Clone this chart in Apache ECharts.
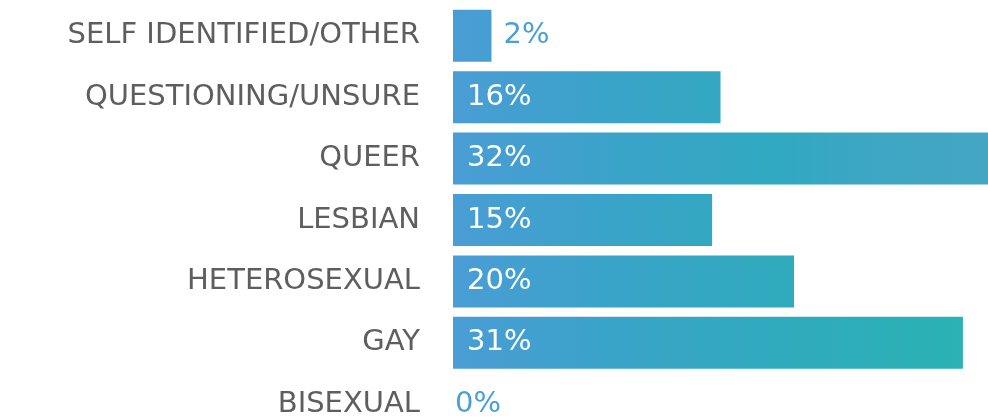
<!DOCTYPE html>
<html lang="en">
<head>
    <meta charset="UTF-8">
    <title>Identity</title>
    <script src="https://cdn.jsdelivr.net/npm/echarts@6/dist/echarts.min.js"></script>
    <style>
        html, body { margin: 0; padding: 0; background: #fff; }
        #box { width: 988px; height: 419px; }
    </style>
</head>
<body>
<div id="box"></div>
<script>
    // categories, top to bottom
    var categories = ['SELF IDENTIFIED/OTHER', 'QUESTIONING/UNSURE', 'QUEER', 'LESBIAN', 'HETEROSEXUAL', 'GAY', 'BISEXUAL'];
    // bar lengths (percent)
    var values = [2.3, 16, 32, 15.5, 20.4, 30.5, 0];
    // printed labels
    var labels = ['2%', '16%', '32%', '15%', '20%', '31%', '0%'];

    var myChart = echarts.init(document.getElementById('box'));

    function barColor(i) {
        var stops = [
            { offset: 0, color: '#4a9dd5' },
            { offset: 0.28, color: '#3aa3c9' },
            { offset: 0.55, color: '#31a9bf' },
            { offset: 0.95, color: '#2ab2b4' },
            { offset: 1, color: '#2ab3b4' }
        ];
        if (categories[i] == 'QUEER') {
            stops = [
                { offset: 0, color: '#4a9dd5' },
                { offset: 0.3, color: '#3ba3c9' },
                { offset: 0.6, color: '#30a9c0' },
                { offset: 0.75, color: '#3ca7c3' },
                { offset: 1, color: '#45a6c2' }
            ];
        }
        return { type: 'linear', x: 453, y: 0, x2: 988, y2: 0, global: true, colorStops: stops };
    }

    var items = [];
    for (var i = 0; i < values.length; i++) {
        var inside = values[i] > 5;
        items.push({
            value: values[i],
            itemStyle: { color: barColor(i) },
            label: {
                show: true,
                position: inside ? 'insideLeft' : 'right',
                distance: inside ? 14 : (values[i] == 0 ? 2 : 12),
                color: inside ? '#ffffff' : '#4a9fd4',
                formatter: labels[i]
            }
        });
    }

    var option = {
        animation: false,
        grid: { left: 453, right: 0, top: 5, height: 430, containLabel: false, outerBoundsMode: 'none' },
        xAxis: {
            type: 'value',
            min: 0,
            max: 32,
            show: false
        },
        yAxis: {
            type: 'category',
            data: categories,
            inverse: true,
            axisLine: { show: false },
            axisTick: { show: false },
            axisLabel: {
                margin: 33,
                color: '#5e5e5e',
                fontFamily: 'DejaVu Sans',
                fontSize: 29
            }
        },
        series: [{
            type: 'bar',
            data: items,
            barWidth: 52,
            label: {
                fontFamily: 'DejaVu Sans',
                fontSize: 29
            }
        }]
    };
    myChart.setOption(option);
</script>
</body>
</html>
